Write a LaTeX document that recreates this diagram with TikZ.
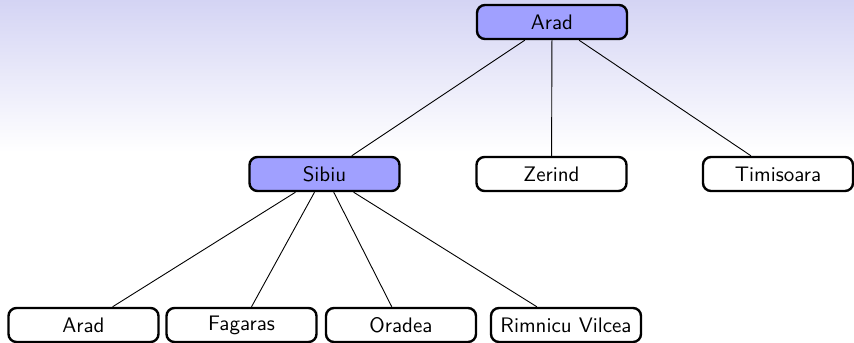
\documentclass[tikz,border=0pt]{standalone}
\usetikzlibrary{shadings}
\definecolor{bgtop}{RGB}{212,212,244}
\definecolor{nodeblue}{RGB}{160,160,255}
\tikzset{
  city/.style={draw=black, line width=1.2pt, rounded corners=4pt, fill=white,
    minimum width=75pt, minimum height=17pt, inner xsep=4pt,
    font=\sffamily\fontsize{10.5}{12}\selectfont},
  expanded/.style={city, fill=nodeblue},
  link/.style={draw=black, line width=0.45pt}
}
\begin{document}
\begin{tikzpicture}[x=0.5pt,y=-0.5pt]
\useasboundingbox (0,0) rectangle (854,342);
\shade[top color=bgtop, bottom color=white] (0,0) rectangle (854,152);
\node[expanded] (arad) at (552,22) {Arad};
\node[expanded] (sibiu) at (324.5,174) {Sibiu};
\node[city] (zerind) at (551.5,174) {Zerind};
\node[city] (timisoara) at (778,174) {Timisoara};
\node[city] (arad2) at (83.5,325) {Arad};
\node[city] (fagaras) at (241.5,325) {Fagaras};
\node[city] (oradea) at (401,325) {Oradea};
\node[city] (rimnicu) at (566,325) {Rimnicu Vilcea};
\draw[link] (arad) -- (sibiu);
\draw[link] (arad) -- (zerind);
\draw[link] (arad) -- (timisoara);
\draw[link] (sibiu) -- (arad2);
\draw[link] (sibiu) -- (fagaras);
\draw[link] (sibiu) -- (oradea);
\draw[link] (sibiu) -- (rimnicu);
\end{tikzpicture}
\end{document}
